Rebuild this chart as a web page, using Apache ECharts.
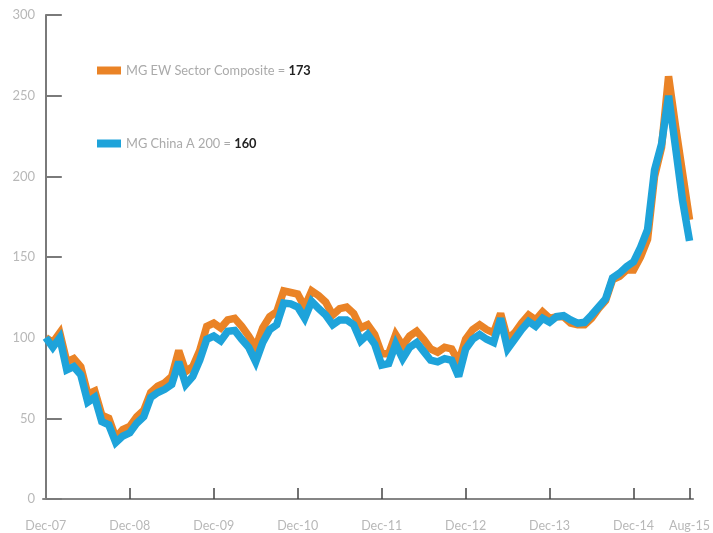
<!DOCTYPE html>
<html>
<head>
<meta charset="utf-8">
<style>
html,body{margin:0;padding:0;background:#fff;}
#chart{width:713px;height:533px;}
</style>
<script src="https://cdn.jsdelivr.net/npm/echarts@6/dist/echarts.min.js"></script>
</head>
<body>
<div id="chart"></div>
<script>
// Month index 0 = Dec-07 ... 92 = Aug-15
var tickMonths = [0, 12, 24, 36, 48, 60, 72, 84, 92];
var tickLabels = ['Dec-07', 'Dec-08', 'Dec-09', 'Dec-10', 'Dec-11', 'Dec-12', 'Dec-13', 'Dec-14', 'Aug-15'];

var ewName = 'MG EW Sector Composite';
var ewLast = 173;
var ewValues = [
  100, 97, 103, 85, 87, 82, 65, 67, 52, 50, 38, 43,
  45, 51, 55, 66, 70, 72, 76, 92, 79, 82, 92, 107,
  109, 106, 111, 112, 107, 101, 94, 106, 113, 116, 129, 128,
  127, 119, 129, 126, 122, 114, 118, 119, 115, 106, 108, 102,
  90, 90, 102, 95, 101, 104, 99, 93, 91, 94, 93, 85,
  99, 105, 108, 105, 103, 115, 99, 103, 109, 114, 111, 116,
  112, 113, 113, 109, 108, 108, 112, 118, 123, 136, 138, 142,
  142, 150, 161, 200, 218, 262, 231, 202, 173
];

var cnName = 'MG China A 200';
var cnLast = 160;
var cnValues = [
  100, 94, 100, 80, 82, 77, 60, 63, 48, 46, 35, 39,
  41, 47, 51, 63, 66, 68, 71, 85, 71, 76, 86, 99,
  101, 98, 104, 104.5, 99, 94, 85, 97, 105, 108, 121.5, 121,
  119, 112, 122.5, 118, 114, 108, 111, 111, 108, 98, 102, 96,
  83, 84, 96, 87, 94, 97, 91.5, 86, 85, 87, 86, 76,
  93, 99, 102, 99, 97, 112, 93, 99, 105, 110, 107, 112,
  109.5, 113, 113.6, 111, 109, 109.5, 114, 119, 124, 137, 140, 144,
  147, 156, 167, 204, 220, 250, 218, 185, 160
];

var yTicks = [0, 50, 100, 150, 200, 250, 300];

function pairs(vals) {
  return vals.map(function (v, i) { return [i, v]; });
}

var chart = echarts.init(document.getElementById('chart'), null, {renderer: 'canvas'});

function legendFor(name, last, top) {
  return {
    data: [name],
    left: 92,
    top: top,
    orient: 'vertical',
    icon: 'rect',
    itemWidth: 24,
    itemHeight: 8,
    itemGap: 5,
    selectedMode: false,
    formatter: function (n) { return '{a|' + n + ' = }{b|' + last + '}'; },
    textStyle: {
      rich: {
        a: {fontFamily: 'Lato', fontSize: 12.8, color: '#aaaaaa', lineHeight: 16},
        b: {fontFamily: 'Lato', fontSize: 12.8, color: '#222222', fontWeight: 'bold', lineHeight: 16}
      }
    }
  };
}

var lineCommon = {join: 'miter', miterLimit: 3, cap: 'butt', width: 7.5};

var option = {
  backgroundColor: '#ffffff',
  animation: false,
  legend: [legendFor(ewName, ewLast, 59), legendFor(cnName, cnLast, 132)],
  grid: {left: 43, right: 18, top: 15, bottom: 34, containLabel: false},
  xAxis: {
    type: 'value',
    min: -0.4,
    max: 92.5,
    splitLine: {show: false},
    axisLine: {show: true, lineStyle: {color: '#858585', width: 2}},
    axisTick: {show: true, inside: true, length: 11, lineStyle: {color: '#444', width: 1.5},
      customValues: tickMonths.slice(1)},
    axisLabel: {
      customValues: tickMonths,
      margin: 20,
      fontFamily: 'Lato', fontSize: 12.5, color: '#b8b8b8',
      formatter: function (v) {
        var k = tickMonths.indexOf(Math.round(v));
        return k >= 0 ? tickLabels[k] : '';
      }
    }
  },
  yAxis: {
    type: 'value',
    min: 0,
    max: 300,
    interval: 50,
    splitLine: {show: false},
    axisLine: {show: true, lineStyle: {color: '#7a7a7a', width: 2}},
    axisTick: {show: true, inside: true, length: 16, lineStyle: {color: '#7a7a7a', width: 2}},
    axisLabel: {
      customValues: yTicks,
      margin: 8, fontFamily: 'Lato', fontSize: 13, color: '#b8b8b8'
    }
  },
  series: [
    {
      name: ewName, type: 'line', data: pairs(ewValues), showSymbol: false, symbol: 'none',
      color: '#EA8326',
      lineStyle: Object.assign({color: '#EA8326'}, lineCommon),
      z: 2
    },
    {
      name: cnName, type: 'line', data: pairs(cnValues), showSymbol: false, symbol: 'none',
      color: '#1EA3DA',
      lineStyle: Object.assign({color: '#1EA3DA'}, lineCommon),
      z: 3
    }
  ]
};
chart.setOption(option);
</script>
</body>
</html>
